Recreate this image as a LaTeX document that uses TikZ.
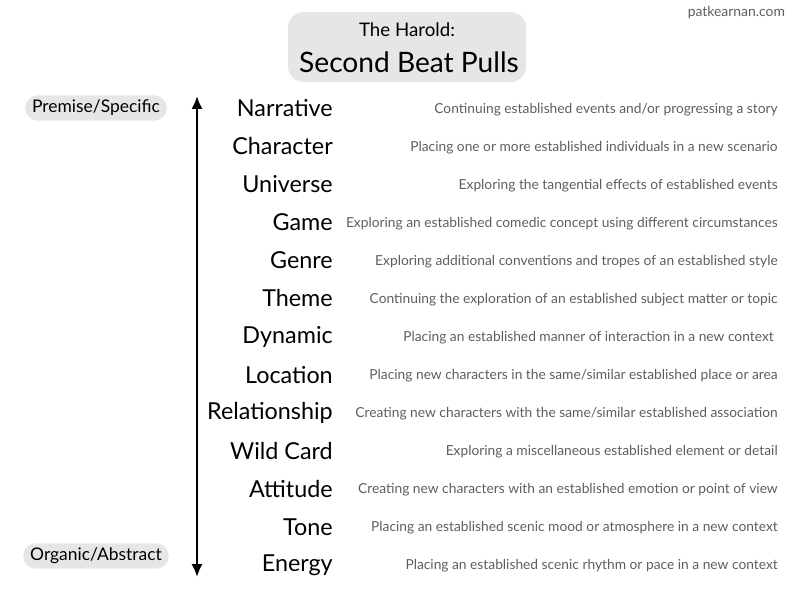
\documentclass[tikz,border=0pt]{standalone}
\usepackage{fontspec}
\setmainfont{Lato}
\usetikzlibrary{arrows.meta,positioning}
\definecolor{pillgray}{HTML}{E6E6E6}
\definecolor{descgray}{HTML}{5E5E5E}
\tikzset{pull/.style={anchor=east,inner sep=0pt,font=\fontsize{16.6}{19}\selectfont},
 desc/.style={anchor=east,inner sep=0pt,text=descgray,font=\fontsize{9.8}{11}\selectfont},
 pill/.style={fill=pillgray,rounded corners=9pt,inner xsep=5pt,minimum height=18pt,font=\fontsize{12.4}{14}\selectfont},
 axis/.style={{Latex[length=3.2mm,width=2.8mm]}-{Latex[length=3.2mm,width=2.8mm]},line width=1.9pt}}

\begin{document}
\begin{tikzpicture}[x=0.025cm,y=-0.025cm]
\useasboundingbox (0,0) rectangle (800,600);
\node[fill=pillgray,rounded corners=11pt,minimum width=238*0.025cm,minimum height=70*0.025cm] (titlebox) at (407,47) {};
\node[font=\fontsize{13.3}{15}\selectfont] (titletop) at (407,30) {The Harold:};
\node[font=\fontsize{20}{23}\selectfont] (titlemain) at (409,62) {Second Beat Pulls};
\node[anchor=east,text=descgray,font=\fontsize{9.9}{11}\selectfont] (site) at (790,13) {patkearnan.com};
\node[pill] (premise) at (96,108) {Premise/Specific};
\node[pill] (organic) at (96,556) {Organic/Abstract};
\coordinate (top) at (197,96);
\coordinate (bottom) at (197,577);
\draw[axis] (top)--(bottom);
\node[pull] (narrative) at (333,108) {Narrative};
\node[pull] (character) at (333,146) {Character};
\node[pull] (universe) at (333,184) {Universe};
\node[pull] (game) at (333,222) {Game};
\node[pull] (genre) at (333,260) {Genre};
\node[pull] (theme) at (333,298) {Theme};
\node[pull] (dynamic) at (333,337) {Dynamic};
\node[pull] (location) at (333,375) {Location};
\node[pull] (relationship) at (333,413) {Relationship};
\node[pull] (wildcard) at (333,451) {Wild Card};
\node[pull] (attitude) at (333,489) {Attitude};
\node[pull] (tone) at (333,527) {Tone};
\node[pull] (energy) at (333,565) {Energy};
\node[desc] (narrativeD) at (778,110) {Continuing established events and/or progressing a story};
\node[desc] (characterD) at (778,148) {Placing one or more established individuals in a new scenario};
\node[desc] (universeD) at (778,186) {Exploring the tangential effects of established events};
\node[desc] (gameD) at (778,224) {Exploring an established comedic concept using different circumstances};
\node[desc] (genreD) at (778,262) {Exploring additional conventions and tropes of an established style};
\node[desc] (themeD) at (778,300) {Continuing the exploration of an established subject matter or topic};
\node[desc] (dynamicD) at (774,338) {Placing an established manner of interaction in a new context};
\node[desc] (locationD) at (778,376) {Placing new characters in the same/similar established place or area};
\node[desc] (relationshipD) at (778,414) {Creating new characters with the same/similar established association};
\node[desc] (wildcardD) at (778,452) {Exploring a miscellaneous established element or detail};
\node[desc] (attitudeD) at (778,490) {Creating new characters with an established emotion or point of view};
\node[desc] (toneD) at (778,528) {Placing an established scenic mood or atmosphere in a new context};
\node[desc] (energyD) at (778,566) {Placing an established scenic rhythm or pace in a new context};
\end{tikzpicture}
\end{document}
